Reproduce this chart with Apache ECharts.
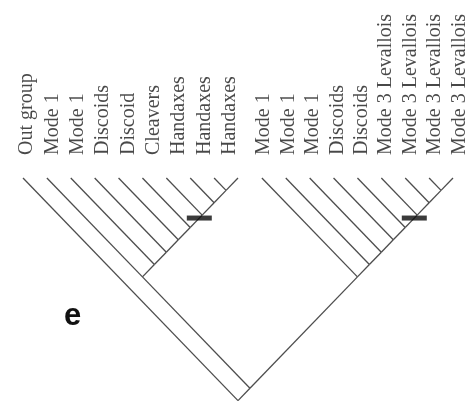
<!DOCTYPE html>
<html>
<head>
<meta charset="utf-8">
<script src="https://cdn.jsdelivr.net/npm/echarts@6/dist/echarts.min.js"></script>
<style>html,body{margin:0;padding:0;background:#fff}#c{width:476px;height:404px}</style>
</head>
<body>
<div id="c"></div>
<script>
// ---- data ----
// tip labels of the two groups (left group sits over tips 0..9, right over 10..18)
const leftLabels = ["Out group", "Mode 1", "Mode 1", "Discoids", "Discoid", "Cleavers", "Handaxes", "Handaxes", "Handaxes"];
const rightLabels = ["Mode 1", "Mode 1", "Mode 1", "Discoids", "Discoids", "Mode 3 Levallois", "Mode 3 Levallois", "Mode 3 Levallois", "Mode 3 Levallois"];
// cladogram topology as nested pairs of tip indices (19 tips)
const tree = [0, [[1, [2, [3, [4, [5, [6, [7, [8, 9]]]]]]]], [10, [11, [12, [13, [14, [15, [16, [17, 18]]]]]]]]]];
// clades whose stems carry a synapomorphy bar (first tip, last tip)
const markedClades = [[6, 9], [15, 18]];
const panelLetter = "e";

// ---- build geometry from topology ----
const edges = [];
function walk(node) {
  if (typeof node === 'number') return { L: node, R: node, x: node, d: 0 };
  const a = walk(node[0]), b = walk(node[1]);
  const n = { L: a.L, R: b.R };
  n.x = (n.L + n.R) / 2; n.d = (n.R - n.L) / 2;
  edges.push({ coords: [[a.x, a.d], [n.x, n.d]] });
  edges.push({ coords: [[b.x, b.d], [n.x, n.d]] });
  return n;
}
walk(tree);

function spread(labels, a, b) {
  const step = (b - a) / (labels.length - 1);
  return labels.map((t, i) => ({ value: [a + i * step, -0.93], name: t }));
}
const labelData = spread(leftLabels, 0.17, 8.66).concat(spread(rightLabels, 10.08, 18.28));

const markerData = markedClades.map(([L, R]) => {
  const d = (R - L) / 2 + 0.12;
  const x = (L + R) / 2 - 0.12; // stem runs down-left toward parent
  return [x, d];
});

const chart = echarts.init(document.getElementById('c'), null, { renderer: 'canvas' });
chart.setOption({
  animation: false,
  backgroundColor: '#fff',
  grid: { left: 23, right: 23, top: 178 - 7 * 24.74, bottom: 3.4 },
  xAxis: { type: 'value', min: 0, max: 18, show: false },
  yAxis: { type: 'value', min: -7, max: 9, inverse: true, show: false },
  graphic: [{
    type: 'text', left: 64, top: 301,
    style: { text: panelLetter, font: 'bold 31px "Liberation Sans", Arial, sans-serif', fill: '#111' }
  }],
  series: [
    {
      type: 'lines', coordinateSystem: 'cartesian2d', data: edges, silent: true,
      lineStyle: { color: '#4d4d4d', width: 1.3, opacity: 1 }
    },
    {
      type: 'scatter', data: labelData, symbolSize: 0, clip: false, silent: true,
      label: {
        show: true, formatter: p => p.name, position: 'inside', rotate: 90,
        align: 'left', verticalAlign: 'middle',
        fontFamily: '"Liberation Serif", "Times New Roman", serif', fontSize: 20, color: '#1a1a1a'
      }
    },
    {
      type: 'scatter', data: markerData, symbol: 'rect', symbolSize: [25, 5], silent: true,
      itemStyle: { color: '#0a0a0a' }
    }
  ]
});
</script>
</body>
</html>
